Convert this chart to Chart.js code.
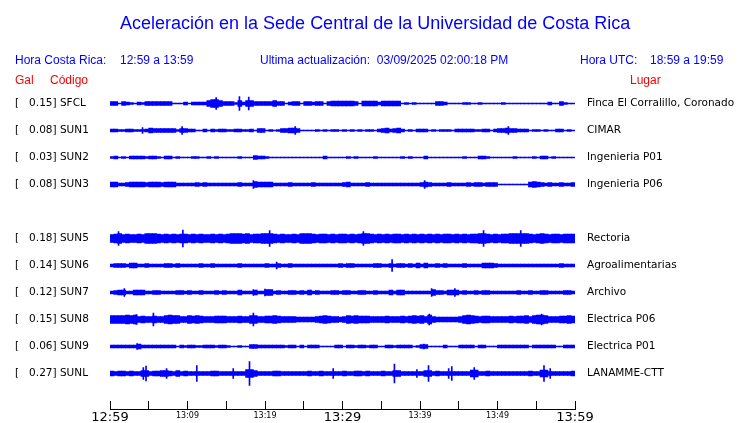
<!DOCTYPE html>
<html><head><meta charset="utf-8">
<script src="https://cdn.jsdelivr.net/npm/chart.js@4/dist/chart.umd.min.js"></script>
<style>
html,body{margin:0;padding:0;background:#fff;}
#wrap{position:relative;width:740px;height:423px;overflow:hidden;}
canvas{position:absolute;left:0;top:0;}
.t{position:absolute;white-space:pre;font-family:"Liberation Sans",Arial,sans-serif;font-size:12px;line-height:1;color:#0000ff;}
.r{color:#ff0000;}
#title{font-size:18px;}
</style></head>
<body><div id="wrap">
<canvas id="c" width="740" height="423"></canvas>
<div class="t" id="title" style="left:120px;top:14px">Aceleración en la Sede Central de la Universidad de Costa Rica</div>
<div class="t" style="left:15px;top:54px">Hora Costa Rica:</div>
<div class="t" style="left:120px;top:54px">12:59 a 13:59</div>
<div class="t" style="left:260px;top:54px">Ultima actualización:  03/09/2025 02:00:18 PM</div>
<div class="t" style="left:580px;top:54px">Hora UTC:</div>
<div class="t" style="left:650px;top:54px">18:59 a 19:59</div>
<div class="t r" style="left:15px;top:74px">Gal</div>
<div class="t r" style="left:50px;top:74px">Código</div>
<div class="t r" style="left:630px;top:74px">Lugar</div>
</div>
<script>
// ---- data ----
const codes = ['SFCL','SUN1','SUN2','SUN3','SUN5','SUN6','SUN7','SUN8','SUN9','SUNL'];
const galValues = [0.15,0.08,0.03,0.08,0.18,0.14,0.12,0.15,0.06,0.27];
const places = ['Finca El Corralillo, Coronado','CIMAR','Ingenieria P01','Ingenieria P06','Rectoria','Agroalimentarias','Archivo','Electrica P06','Electrica P01','LANAMME-CTT'];
const slots = [0,1,2,3,5,6,7,8,9,10];
const tickLabels = ['12:59','13:09','13:19','13:29','13:39','13:49','13:59'];
const binMinutes = 0.5;
// amplitude envelope per half-minute bin (base-36 level)
const envSFCL = "4414321324"+"4444441113"+"1333368864"+"4426366444"+"4464413441"+"4434414555"+"5554155553"+"5555512121"+"1111443111"+"1221121111"+"1211111111"+"1113114211";
const envSUN1 = "3322332223"+"5444444244"+"3311313233"+"2233223144"+"1212445541"+"1112121221"+"2121212213"+"4534531213"+"3312122213"+"3333223313"+"4454433312"+"2121133121";
const envSUN2 = "2312133332"+"3321331211"+"1221121211"+"1112111433"+"2111111111"+"1111131111"+"1212111121"+"1111121211"+"1311111111"+"1211133211"+"1111211112"+"1331211111";
const envSUN3 = "5533455554"+"5554555333"+"3343433333"+"3334333655"+"5533334333"+"3343333333"+"4533334333"+"3333333333"+"4543333433"+"3343443444"+"1111111156"+"5434334334";
const envSUN5 = "89a898898a"+"aa98989899"+"8989889898"+"9aaa9a899a"+"aa9898898a"+"aa98998989"+"98989aa989"+"8989989898"+"9898989989"+"89899aa989"+"899aaaaa98"+"9a98998999";
const envSUN6 = "3444355334"+"3333443433"+"3334334333"+"3334333333"+"4334334333"+"3333333334"+"3443333344"+"3343443435"+"3533434333"+"3433335554"+"3333333333"+"3333334333";
const envSUN7 = "3455335553"+"3443333443"+"4334333434"+"3335333533"+"6634334434"+"3534333443"+"4433443343"+"3353553333"+"3336443555"+"3433434433"+"3333343343"+"3443333443";
const envSUN8 = "8888989676"+"6766898866"+"8787666777"+"6667668866"+"7787666655"+"5556787665"+"6878777666"+"6766676787"+"8696555555"+"6898767766"+"6667677868"+"9986667787";
const envSUN9 = "3333333533"+"3333333132"+"3322333233"+"2112114433"+"3333323313"+"1333111133"+"1332332331"+"1332333312"+"4411113111"+"3333133111"+"3333333313"+"3333311333";
const envSUNL = "5455454466"+"4556654645"+"4444445544"+"4444488644"+"4455444444"+"4544544444"+"5445545444"+"5446644444"+"4664544444"+"4447744544"+"4444444454"+"4774444445";
// narrow peaks: [minute, level]
const spikesSFCL = [[13.7,12],[16.7,14],[17.9,13]];
const spikesSUN1 = [[4.2,6],[9.3,8],[23.9,8],[51.4,8]];
const spikesSUN2 = [];
const spikesSUN3 = [[18.5,8],[40.6,8]];
const spikesSUN5 = [[1.1,14],[9.4,17],[20.6,16],[32.7,14],[48.2,16],[53,16]];
const spikesSUN6 = [[21.5,7],[36.4,12]];
const spikesSUN7 = [[1.85,8],[18.5,6],[20,7],[41.5,8],[44.5,8]];
const spikesSUN8 = [[3.4,10],[5.6,13],[18.5,13],[41.2,11],[55.7,11]];
const spikesSUN9 = [[3.5,6],[40.5,5]];
const spikesSUNL = [[4.3,12],[4.65,15],[7.3,10],[11.2,16],[15.9,10],[18,24],[28.8,10],[36.7,19],[39.6,8],[41.1,16],[43.7,10],[44.1,14],[47,12],[56,16],[56.8,10]];

// ---- build chart ----
const envelopes = [envSFCL,envSUN1,envSUN2,envSUN3,envSUN5,envSUN6,envSUN7,envSUN8,envSUN9,envSUNL];
const spikeLists = [spikesSFCL,spikesSUN1,spikesSUN2,spikesSUN3,spikesSUN5,spikesSUN6,spikesSUN7,spikesSUN8,spikesSUN9,spikesSUNL];
const LEVEL = 1/54;
const BLUE = '#0000ff';
const datasets = [];
envelopes.forEach((env, k) => {
  const row = slots[k];
  datasets.push({
    data: Array.from(env).map((ch, i) => {
      const a = parseInt(ch, 36) * LEVEL;
      return {x: (i + 0.5) * binMinutes, y: [row - a, row + a]};
    }),
    backgroundColor: BLUE, borderWidth: 0, barThickness: 4, grouped: false
  });
  datasets.push({
    data: spikeLists[k].map(([t, l]) => ({x: t, y: [row - l * LEVEL, row + l * LEVEL]})),
    backgroundColor: BLUE, borderWidth: 0, barThickness: 1, grouped: false
  });
});
const leftLabels = {}; const rightLabels = {};
slots.forEach((s, k) => {
  leftLabels[s] = '[   ' + galValues[k].toFixed(2) + '] ' + codes[k];
  rightLabels[s] = places[k];
});
Chart.defaults.font.family = 'DejaVu Sans';
Chart.defaults.color = '#000';
const rowTicks = s => { s.ticks = slots.map(v => ({value: v})); };
new Chart(document.getElementById('c'), {
  type: 'bar',
  data: {datasets},
  options: {
    responsive: false, animation: false, events: [],
    layout: {padding: {left: 15, right: 0, top: 90, bottom: 0}},
    plugins: {legend: {display: false}, tooltip: {enabled: false}, title: {display: false}},
    scales: {
      x: {type: 'linear', min: 0, max: 60, offset: false, position: 'bottom', weight: 0,
          ticks: {display: false, stepSize: 5},
          grid: {offset: false, drawOnChartArea: false, drawTicks: true, tickLength: 9, color: '#000', lineWidth: 1},
          border: {display: false},
          afterFit: s => { s.height = 9; }},
      x2: {type: 'linear', min: 0, max: 60, offset: false, position: 'bottom', weight: 1,
          ticks: {stepSize: 10, padding: 0, autoSkip: false, maxRotation: 0, color: '#000',
                  callback: (v, i) => tickLabels[i],
                  font: c => (c.index % 3 === 0) ? {size: 13, family: 'DejaVu Sans'} : {size: 8, lineHeight: 1.7, family: 'DejaVu Sans'}},
          grid: {display: false, drawTicks: false, offset: false},
          border: {display: true, color: '#000', width: 1},
          afterFit: s => { s.height = 13.5; }},
      y: {type: 'linear', position: 'left', min: -0.5, max: 11, reverse: true,
          afterBuildTicks: rowTicks,
          ticks: {autoSkip: false, crossAlign: 'far', padding: 0, font: {size: 10.5},
                  callback: v => leftLabels[v] || ''},
          grid: {display: false, drawTicks: false}, border: {display: false},
          afterFit: s => { s.width = 95; }},
      yR: {type: 'linear', position: 'right', min: -0.5, max: 11, reverse: true,
          afterBuildTicks: rowTicks,
          ticks: {autoSkip: false, padding: 12, font: {size: 10.5},
                  callback: v => rightLabels[v] || ''},
          grid: {display: false, drawTicks: false}, border: {display: false},
          afterFit: s => { s.width = 165; }}
    }
  }
});
</script>
</body></html>
